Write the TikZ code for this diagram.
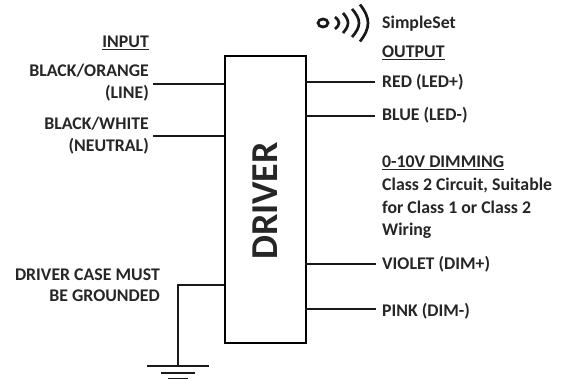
\documentclass[tikz,border=0pt]{standalone}
\usepackage{fontspec}
\setmainfont{Carlito}
\tikzset{
 lab/.style={font=\fontsize{17.8}{21.5}\selectfont\bfseries, inner sep=0pt, text=black!85},
 wire/.style={line width=1.6pt, black!90},
 ico/.style={line width=2.7pt, black!90},
}
\begin{document}
\begin{tikzpicture}[x=1pt,y=-1pt]
\useasboundingbox (0,0) rectangle (569,379);
\node[draw,line width=1.6pt,minimum width=81pt,minimum height=287pt,inner sep=0pt,anchor=north west] (drv) at (224,55) {};
\node[rotate=90,font=\fontsize{38}{40}\selectfont\bfseries,text=black!85] (dt) at (265.5,201) {DRIVER};
\coordinate (a1) at (224,84); \coordinate (a0) at (153,84);
\coordinate (b1) at (224,136); \coordinate (b0) at (153,136);
\coordinate (c1) at (305,82); \coordinate (c0) at (375,82);
\coordinate (d1) at (305,116); \coordinate (d0) at (375,116);
\coordinate (e1) at (305,264); \coordinate (e0) at (376,264);
\coordinate (f1) at (305,309); \coordinate (f0) at (376,309);
\coordinate (g1) at (224,285); \coordinate (g2) at (178,285); \coordinate (g3) at (178,366);
\draw[wire] (a0)--(a1); \draw[wire] (b0)--(b1);
\draw[wire] (c1)--(c0); \draw[wire] (d1)--(d0); \draw[wire] (e1)--(e0); \draw[wire] (f1)--(f0);
\draw[wire] (g1)--(g2)--(g3);
\draw[wire] (147,366)--(209,366);
\draw[wire] (161,373)--(195,373);
\draw[wire] (168,378.5)--(188,378.5);
\node[lab,anchor=base east] (n1) at (149,48) {\underline{INPUT}};
\node[lab,anchor=base east] (n2a) at (149,77) {BLACK/ORANGE};
\node[lab,anchor=base east] (n2b) at (149,99) {(LINE)};
\node[lab,anchor=base east] (n3a) at (149,130) {BLACK/WHITE};
\node[lab,anchor=base east] (n3b) at (149,152) {(NEUTRAL)};
\node[lab,anchor=base east] (n4a) at (160,280) {DRIVER CASE MUST};
\node[lab,anchor=base east] (n4b) at (160,301) {BE GROUNDED};
\node[lab,anchor=base west] (n5) at (382,29) {SimpleSet};
\node[lab,anchor=base west] (n6) at (382,58) {\underline{OUTPUT}};
\node[lab,anchor=base west] (n7) at (382,88) {RED (LED+)};
\node[lab,anchor=base west] (n8) at (382,121) {BLUE (LED-)};
\node[lab,anchor=base west] (n9a) at (382,168) {\underline{0-10V DIMMING}};
\node[lab,anchor=base west] (n9b) at (382,191) {Class 2 Circuit, Suitable};
\node[lab,anchor=base west] (n9c) at (382,213) {for Class 1 or Class 2};
\node[lab,anchor=base west] (n9d) at (382,235) {Wiring};
\node[lab,anchor=base west] (n10) at (382,269) {VIOLET (DIM+)};
\node[lab,anchor=base west] (n11) at (382,316) {PINK (DIM-)};
\draw[ico] (323,23) ellipse (5pt and 4pt);
\foreach \x/\s/\h in {339/4/6,348/5/10,359/7/14,368/8/18.5}{
 \draw[ico] (\x-\s,23-\h) .. controls (\x-\s*0.3,23-\h*0.6) and (\x,23-\h*0.3) .. (\x,23)
   .. controls (\x,23+\h*0.3) and (\x-\s*0.3,23+\h*0.6) .. (\x-\s,23+\h);}
\end{tikzpicture}
\end{document}
